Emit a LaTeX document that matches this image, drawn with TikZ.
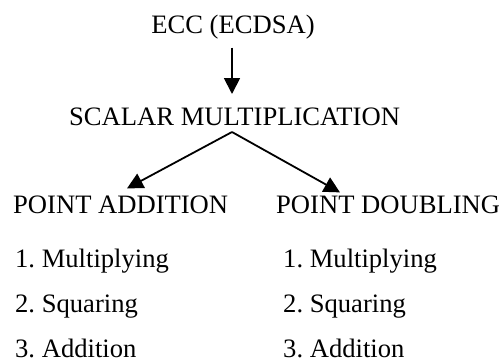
\documentclass[tikz,border=0pt]{standalone}
\usepackage{fontspec}
\setmainfont{Liberation Serif}
\usetikzlibrary{arrows.meta}
\frenchspacing
\begin{document}
\begin{tikzpicture}[x=1bp,y=-1bp,
  lbl/.style={inner sep=0pt,font=\fontsize{26.7}{32}\selectfont},
  arr/.style={line width=1.8bp,-{Triangle[length=16bp,width=16bp]}}]
\useasboundingbox (0,0) rectangle (499,363);
\node[lbl,anchor=base,outer ysep=9bp] (ecc) at (233,33) {ECC (ECDSA)};
\node[lbl,anchor=base west] (scalar) at (69,125) {SCALAR MULTIPLICATION};
\node[lbl,anchor=base west,outer ysep=7bp] (pa) at (13,213) {POINT ADDITION};
\node[lbl,anchor=base west,outer ysep=3bp] (pd) at (276,213) {POINT DOUBLING};
\node[lbl,anchor=base west] (pa1) at (15,267) {1. Multiplying};
\node[lbl,anchor=base west] (pa2) at (15,312) {2. Squaring};
\node[lbl,anchor=base west] (pa3) at (15,357) {3. Addition};
\node[lbl,anchor=base west] (pd1) at (283,267) {1. Multiplying};
\node[lbl,anchor=base west] (pd2) at (283,312) {2. Squaring};
\node[lbl,anchor=base west] (pd3) at (283,357) {3. Addition};
\coordinate (apex) at (232,132);
\coordinate (vtip) at (232,94);
\draw[arr] (ecc.south -| apex) -- (vtip);
\draw[arr] (apex) -- (pa.north -| 127,0);
\draw[arr] (apex) -- (pd.north -| 340,0);
\end{tikzpicture}
\end{document}
